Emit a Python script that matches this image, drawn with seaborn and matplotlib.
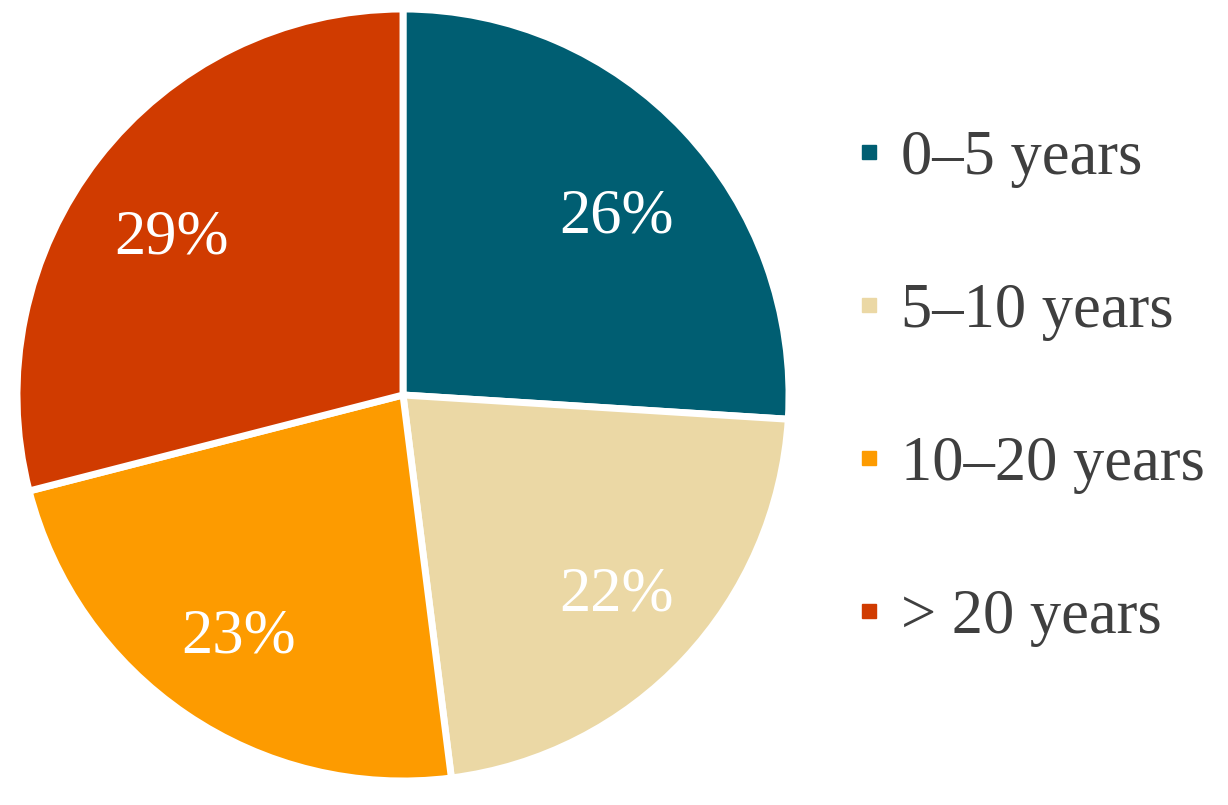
import matplotlib.pyplot as plt
from matplotlib.lines import Line2D
import seaborn as sns

labels = ['0\u20135 years', '5\u201310 years', '10\u201320 years', '> 20 years']
shares = [26, 22, 23, 29]
palette = ['#005e72', '#ebd8a5', '#fd9b00', '#d03b00']

sns.set_theme(style='white')
plt.rcParams['font.family'] = ['Liberation Serif', 'DejaVu Serif']

fig = plt.figure(figsize=(12.28, 8.05), dpi=100)
ax = fig.add_axes([(403 - 386) / 1228, (805 - 395 - 386) / 805, 772 / 1228, 772 / 805])

wedges, texts, autotexts = ax.pie(
    shares, colors=sns.color_palette(palette), startangle=90, counterclock=False,
    autopct='%d%%', pctdistance=0.76,
    wedgeprops=dict(edgecolor='white', linewidth=5),
    textprops=dict(color='white', fontsize=45))
ax.set_xlim(-1, 1)
ax.set_ylim(-1, 1)
ax.set_aspect('equal')

# the upper labels sit a little lower in the original
for t in (autotexts[0], autotexts[3]):
    x, y = t.get_position()
    t.set_position((x, y - 0.06))

handles = [Line2D([], [], marker='s', linestyle='none', markersize=10, color=c) for c in palette]
fig.legend(handles, labels, loc='center left', bbox_to_anchor=(860 / 1228, 0.518),
           frameon=False, fontsize=45, labelcolor='#3f3f3f', borderpad=0, borderaxespad=0,
           labelspacing=1.52, handletextpad=0.35, handlelength=0.3)

fig.savefig('out.png', dpi=100)
